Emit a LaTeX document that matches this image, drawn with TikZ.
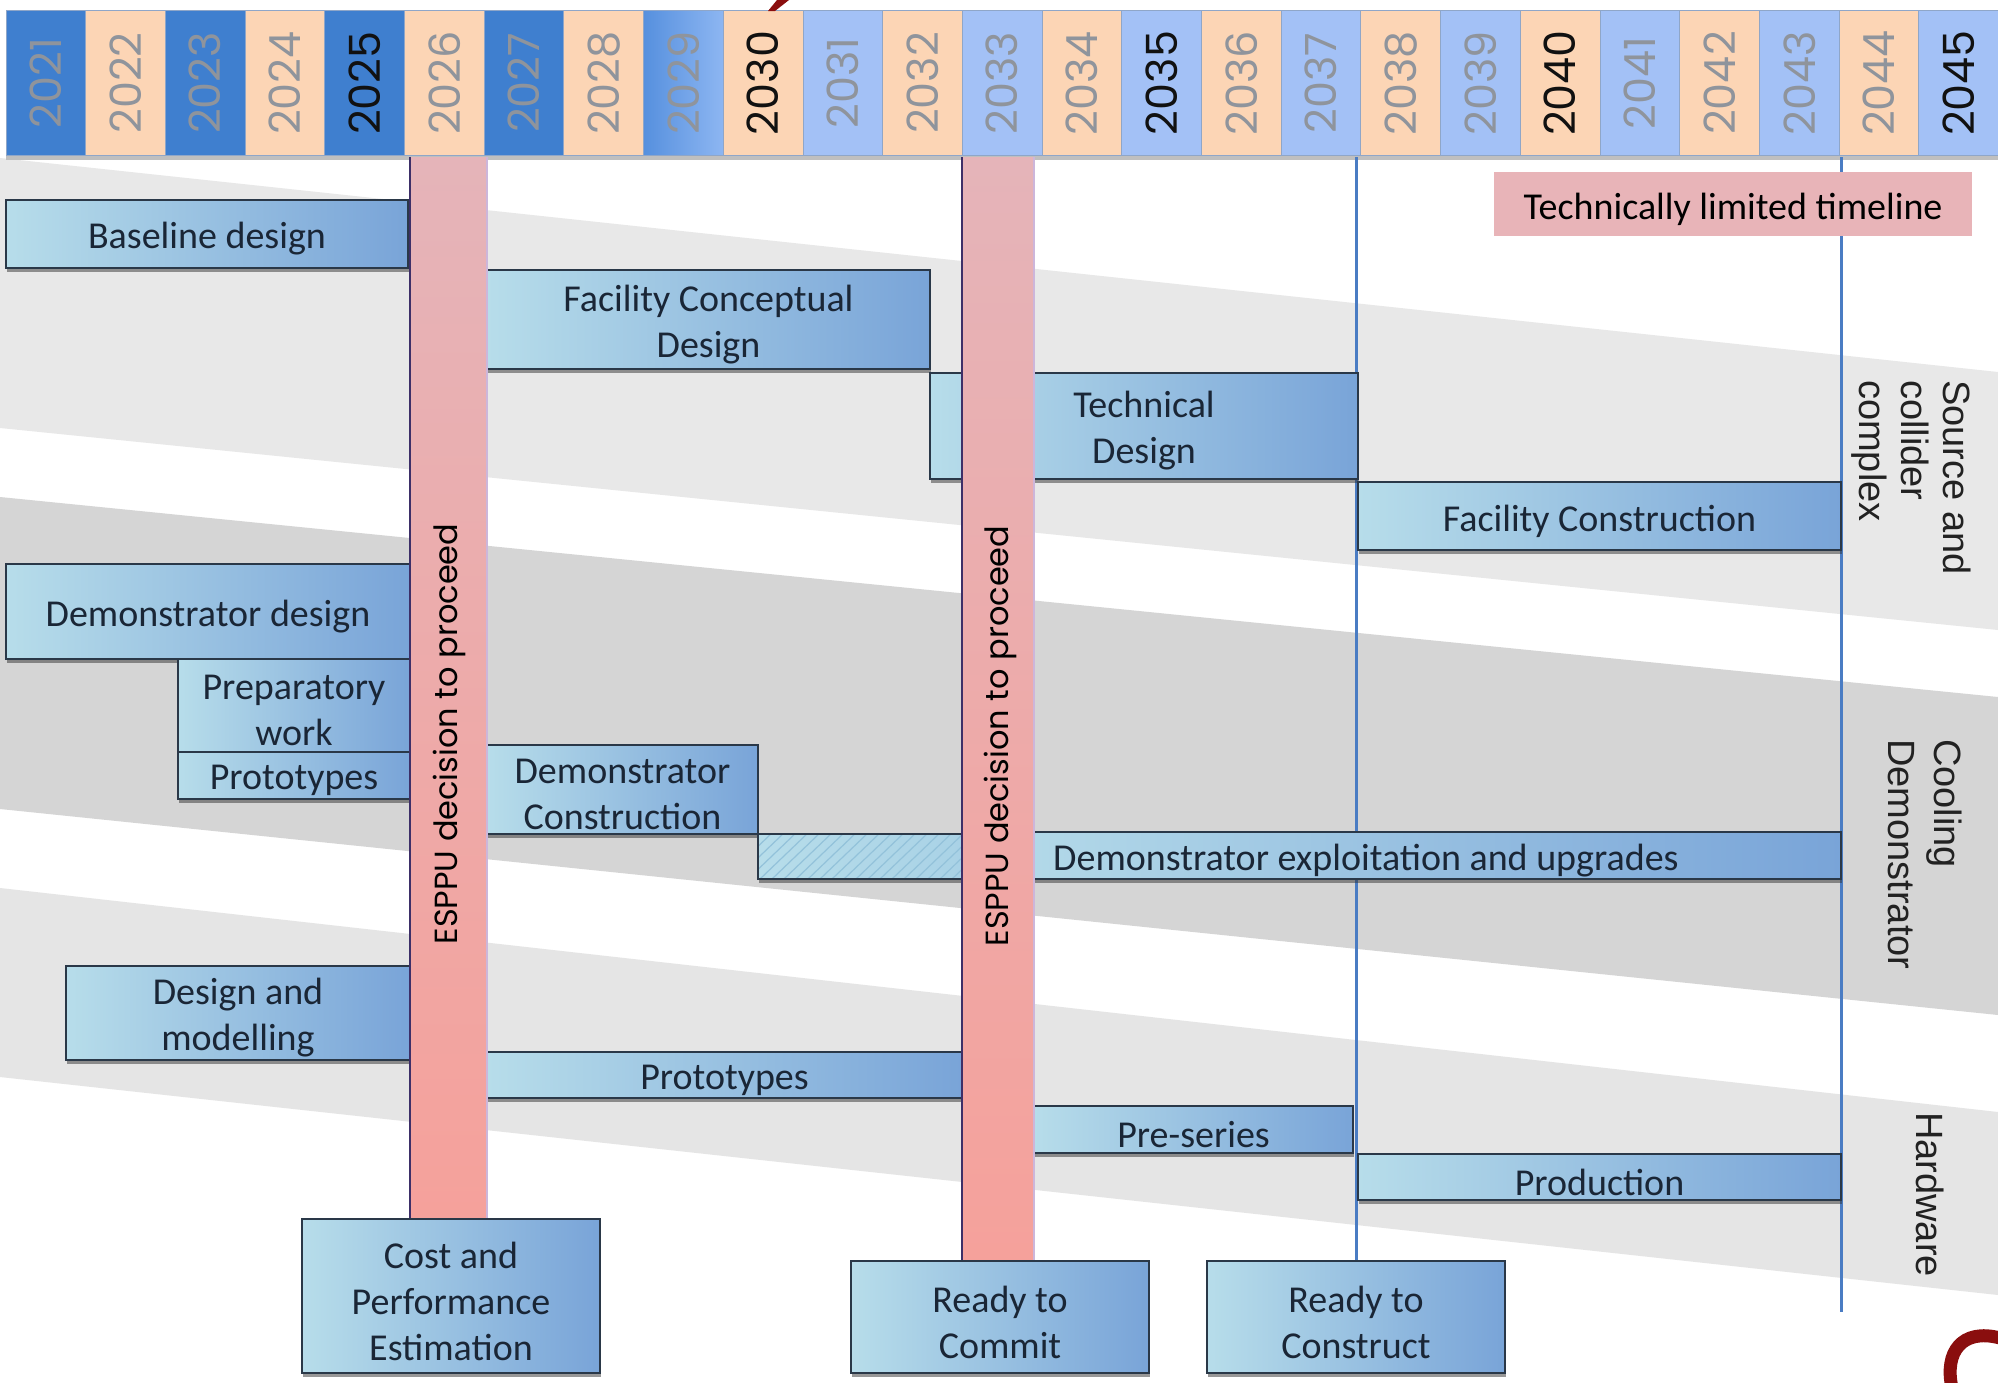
\documentclass[tikz,border=0pt]{standalone}
\usepackage{fontspec}
\setmainfont{Carlito}
\newfontfamily\popfont{Poppins}
\newfontfamily\arialfont{Liberation Sans}
\usetikzlibrary{shadows}
\pgfdeclarelayer{back}
\pgfdeclarelayer{lines}
\pgfsetlayers{back,lines,main}

\definecolor{hdark}{HTML}{3F7FCF}
\definecolor{hmidL}{HTML}{5690DE}
\definecolor{hmidR}{HTML}{8DB6F2}
\definecolor{hlight}{HTML}{A3C1F6}
\definecolor{peach}{HTML}{FCD5B5}
\definecolor{cellline}{HTML}{8FA6C8}
\definecolor{ygrey}{HTML}{8F949C}
\definecolor{yblack}{HTML}{111111}
\definecolor{boxL}{HTML}{B7DDEA}
\definecolor{boxR}{HTML}{79A4D8}
\definecolor{hatchR}{HTML}{A9D2E6}
\definecolor{hatchline}{HTML}{93C2DA}
\definecolor{boxline}{HTML}{2A3848}
\definecolor{boxtext}{HTML}{1A2636}
\definecolor{barTop}{HTML}{E5B4B9}
\definecolor{barBot}{HTML}{F5A19B}
\definecolor{barEdge}{HTML}{3D2F68}
\definecolor{barRim}{HTML}{CDB6DA}
\definecolor{vblue}{HTML}{4A7CC3}
\definecolor{pinkbox}{HTML}{E8B4B8}
\definecolor{bandA}{HTML}{E8E8E8}
\definecolor{bandB}{HTML}{D5D5D5}
\definecolor{bandC}{HTML}{E5E5E5}
\definecolor{sidetext}{HTML}{222222}
\definecolor{darkred}{HTML}{8A0E0E}

% task box: name, x, y (top left), width, height, text
\newcommand\taskat[6]{%
  \node[taskbox, minimum width=#4pt, minimum height=#5pt] (#1) at (#2,#3) {};
  \node[tasktext, align=center] (#1-txt) at ([yshift=-5pt]#1.center) {#6};}

\begin{document}
\begin{tikzpicture}[x=1pt,y=-1pt,
  cellbox/.style={draw=cellline, line width=1pt},
  yeartext/.style={rotate=90, font=\popfont\fontsize{43}{43}\selectfont, inner sep=0pt},
  taskbox/.style={draw=boxline, line width=1.6pt, left color=boxL, right color=boxR,
    inner sep=0pt, outer sep=0pt, anchor=north west,
    drop shadow={shadow xshift=1pt, shadow yshift=-4pt, opacity=0.5, fill=black!80}},
  hatchbox/.style={taskbox, left color=boxL, right color=hatchR},
  tasktext/.style={text=boxtext, font=\fontsize{38}{46}\selectfont, inner sep=0pt},
  esppubar/.style={top color=barTop, bottom color=barBot, draw=none, inner sep=0pt,
    outer sep=0pt, anchor=north west},
  esppulabel/.style={rotate=90, font=\popfont\fontsize{32}{32}\selectfont, text=black, inner sep=0pt},
  vline/.style={draw=vblue, line width=3pt},
  sidelabel/.style={rotate=-90, anchor=west, align=left,
    font=\arialfont\fontsize{38}{42}\selectfont, text=sidetext, inner sep=0pt},
  pinknode/.style={fill=pinkbox, inner sep=0pt, outer sep=0pt, anchor=north west},
]
\useasboundingbox (0,0) rectangle (1998,1382);

% background and bands
\begin{pgfonlayer}{back}
  \fill[white] (0,0) rectangle (1998,1382);
  \fill[bandA] (0,158) -- (1998,372) -- (1998,630) -- (0,428) -- cycle;
  \fill[bandB] (0,497) -- (1998,697) -- (1998,1015) -- (0,809) -- cycle;
  \fill[bandC] (0,888) -- (1998,1112) -- (1998,1295) -- (0,1077) -- cycle;
  \fill[black!25] (6,155) rectangle (1998,160);
\end{pgfonlayer}

% year header
\foreach \yr/\fc/\fd/\tc [count=\i from 0] in {
  2021/hdark/hdark/ygrey, 2022/peach/peach/ygrey, 2023/hdark/hdark/ygrey,
  2024/peach/peach/ygrey, 2025/hdark/hdark/yblack, 2026/peach/peach/ygrey,
  2027/hdark/hdark/ygrey, 2028/peach/peach/ygrey, 2029/hmidL/hmidR/ygrey,
  2030/peach/peach/yblack, 2031/hlight/hlight/ygrey, 2032/peach/peach/ygrey,
  2033/hlight/hlight/ygrey, 2034/peach/peach/ygrey, 2035/hlight/hlight/yblack,
  2036/peach/peach/ygrey, 2037/hlight/hlight/ygrey, 2038/peach/peach/ygrey,
  2039/hlight/hlight/ygrey, 2040/peach/peach/yblack, 2041/hlight/hlight/ygrey,
  2042/peach/peach/ygrey, 2043/hlight/hlight/ygrey, 2044/peach/peach/ygrey,
  2045/hlight/hlight/yblack}
{
  \pgfmathsetmacro\xa{6+79.7*\i}
  \pgfmathsetmacro\xb{\xa+79.7}
  \pgfmathsetmacro\xm{\xa+39.85}
  \path[cellbox, left color=\fc, right color=\fd] (\xa,10) rectangle (\xb,155);
  \node[yeartext, text=\tc] (y\yr) at (\xm,83) {\yr};
}

% task boxes
\taskat{base}{6}{200}{402}{68}{Baseline design}
\taskat{fcd}{487}{270}{443}{99}{Facility Conceptual\\Design}
\taskat{tech}{930}{373}{428}{106}{Technical\\Design}
\taskat{fcon}{1358}{482}{483}{68}{Facility Construction}

\taskat{ddes}{6}{564}{404}{95}{Demonstrator design}
\taskat{prep}{178}{659}{232}{93}{Preparatory\\work}
\taskat{protoA}{178}{752}{232}{47}{Prototypes}
\taskat{dcon}{487}{745}{271}{89}{Demonstrator\\Construction}
\node[hatchbox, minimum width=206pt, minimum height=45pt] (hatch) at (758,834) {};
\begin{scope}
  \clip (hatch.north west) rectangle (hatch.south east);
  \foreach \k in {0,...,22}
    \draw[hatchline, line width=1.2pt] (700+\k*12,879) -- ++(50,-48);
\end{scope}
\draw[boxline, line width=1.6pt] (hatch.north west) rectangle (hatch.south east);
\node[taskbox, minimum width=877pt, minimum height=47pt] (dexp) at (964,832) {};
\node[tasktext, anchor=west] (dexp-txt) at ([yshift=-5pt]1053,856) {Demonstrator exploitation and upgrades};

\taskat{dmod}{66}{966}{344}{94}{Design and\\modelling}
\taskat{protoB}{487}{1052}{475}{46}{Prototypes}
\taskat{preser}{1034}{1106}{319}{47}{Pre-series}
\taskat{prod}{1358}{1154}{483}{46}{Production}

% ESPPU decision bars
\node[esppubar, minimum width=77pt, minimum height=1062pt] (barA) at (410,157) {};
\draw[barEdge, line width=2.5pt] (barA.north west) -- (barA.south west);
\draw[barRim, line width=2pt] (barA.north east) -- (barA.south east);
\node[esppulabel] (barA-txt) at (449,734) {ESPPU decision to proceed};

\node[esppubar, minimum width=72pt, minimum height=1104pt] (barB) at (962,157) {};
\draw[barEdge, line width=2.5pt] (barB.north west) -- (barB.south west);
\draw[barRim, line width=2pt] (barB.north east) -- (barB.south east);
\node[esppulabel] (barB-txt) at (1000,736) {ESPPU decision to proceed};

% milestones
\taskat{cost}{302}{1219}{298}{154}{Cost and\\Performance\\Estimation}
\taskat{commit}{851}{1261}{298}{112}{Ready to\\Commit}
\taskat{construct}{1207}{1261}{298}{112}{Ready to\\Construct}

% vertical milestone lines
\coordinate (l1top) at (1356,157);
\coordinate (l2top) at (1841,157);
\coordinate (l2bot) at (1841,1312);
\begin{pgfonlayer}{lines}
  \draw[vline] (l1top) -- (l1top |- construct.north);
  \draw[vline] (l2top) -- (l2bot);
\end{pgfonlayer}

% technically limited timeline
\node[pinknode, minimum width=478pt, minimum height=64pt] (tlt) at (1494,172) {};
\node[tasktext, text=black] (tlt-txt) at ([yshift=-5pt]tlt.center) {Technically limited timeline};

% side labels
\node[sidelabel] (lblsrc) at (1911,380) {Source and\\collider\\complex};
\node[sidelabel, font=\arialfont\fontsize{38}{46}\selectfont] (lblcool) at (1925,739) {Cooling\\Demonstrator};
\node[sidelabel] (lblhw) at (1930,1112) {Hardware};

% cut-off fragments of slide text
\fill[darkred] (777,0) -- (789,0) -- (775,11) -- (768,11) -- cycle;
\draw[darkred, line width=13pt] (2000,1338) .. controls (1962,1328) and (1944,1352) .. (1952,1388);
\end{tikzpicture}
\end{document}
